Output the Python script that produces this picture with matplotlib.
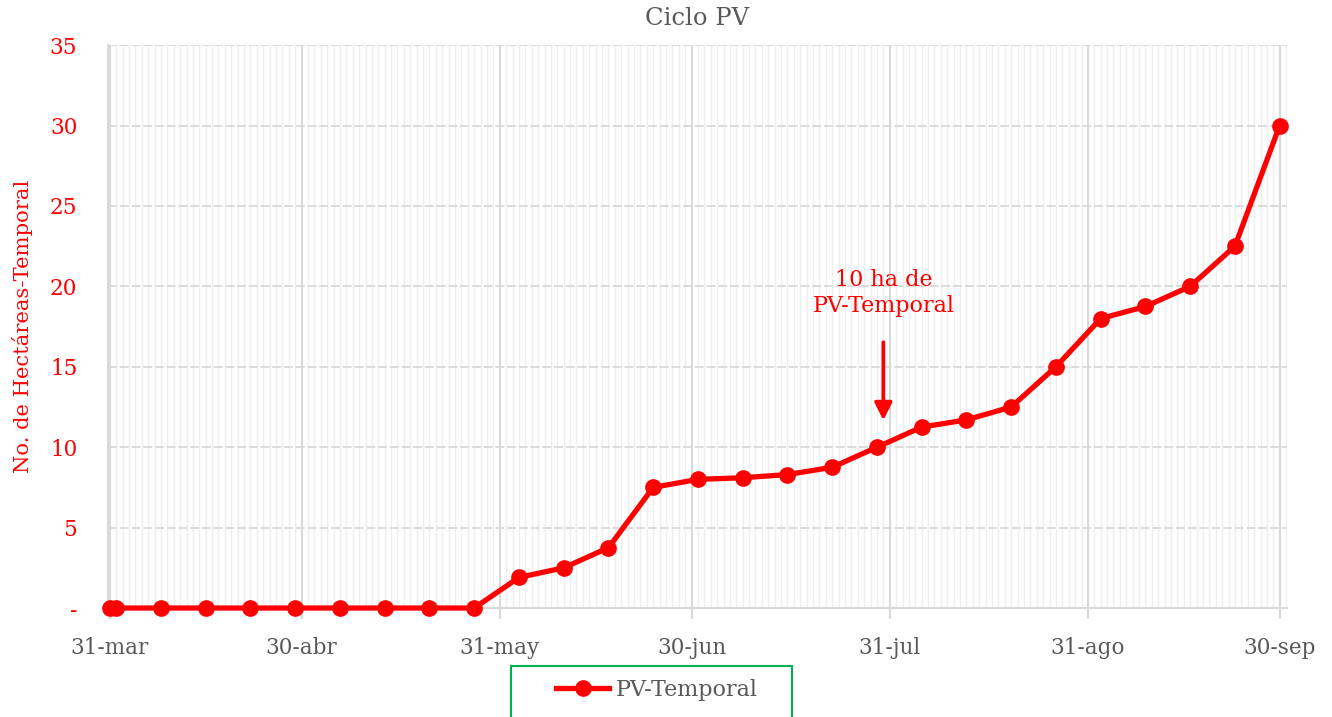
import pandas as pd
import matplotlib.pyplot as plt
import matplotlib.dates as mdates
from matplotlib.patches import Rectangle

# weekly samples of the PV-Temporal cycle
fechas = ["2023-03-31", "2023-04-01", "2023-04-08", "2023-04-15", "2023-04-22",
          "2023-04-29", "2023-05-06", "2023-05-13", "2023-05-20", "2023-05-27",
          "2023-06-03", "2023-06-10", "2023-06-17", "2023-06-24", "2023-07-01",
          "2023-07-08", "2023-07-15", "2023-07-22", "2023-07-29", "2023-08-05",
          "2023-08-12", "2023-08-19", "2023-08-26", "2023-09-02", "2023-09-09",
          "2023-09-16", "2023-09-23", "2023-09-30"]
hectareas = [0, 0, 0, 0, 0, 0, 0, 0, 0, 0,
             1.9, 2.5, 3.75, 7.5, 8.0, 8.1, 8.3, 8.75, 10.0, 11.25,
             11.7, 12.5, 15.0, 18.0, 18.75, 20.0, 22.5, 30.0]

tick_fechas = ["2023-03-31", "2023-04-30", "2023-05-31", "2023-06-30",
               "2023-07-31", "2023-08-31", "2023-09-30"]
tick_labels = ["31-mar", "30-abr", "31-may", "30-jun", "31-jul", "31-ago", "30-sep"]
y_ticks = [0, 5, 10, 15, 20, 25, 30, 35]
y_labels = ["-", "5", "10", "15", "20", "25", "30", "35"]

nota_fecha = "2023-07-30"
nota_texto = "10 ha de\nPV-Temporal"

RED = "#ff0000"
GRAY = "#595959"
FONT = "DejaVu Serif"

plt.rcParams["font.family"] = FONT

x = pd.to_datetime(fechas)
ticks = pd.to_datetime(tick_fechas)

fig = plt.figure(figsize=(13.32, 7.17), dpi=100)
ax = fig.add_axes([0.081, 0.152, 0.885, 0.785])

ax.plot(x, hectareas, color=RED, linewidth=3.8, marker="o", markersize=11,
        label="PV-Temporal", zorder=3, clip_on=False)

# axis limits
ax.set_xlim(mdates.date2num(pd.Timestamp("2023-03-31")) - 0.3,
            mdates.date2num(pd.Timestamp("2023-10-01")) + 0.1)
ax.set_ylim(0, 35)

# x ticks: month ends, daily minor grid
ax.set_xticks(ticks)
ax.set_xticklabels(tick_labels, color=GRAY, fontsize=15.5)
ax.xaxis.set_minor_locator(mdates.DayLocator())
ax.tick_params(axis="x", which="major", length=8, width=1.5, color="#d9d9d9", pad=13)
ax.tick_params(axis="x", which="minor", length=0)

ax.set_yticks(y_ticks)
ax.set_yticklabels(y_labels, color=RED, fontsize=15.5)
ax.tick_params(axis="y", length=0, pad=22)

ax.grid(axis="x", which="minor", color="#efefef", linewidth=1.0, zorder=0)
ax.grid(axis="x", which="major", color="#d9d9d9", linewidth=1.5, zorder=0)
ax.grid(axis="y", which="major", color="#d9d9d9", linewidth=1.3,
        linestyle=(0, (5, 1.5)), zorder=0)
ax.set_axisbelow(True)

for side in ["top", "right"]:
    ax.spines[side].set_visible(False)
ax.spines["left"].set_color("#d9d9d9")
ax.spines["bottom"].set_color("#d9d9d9")
ax.spines["left"].set_linewidth(1.5)
ax.spines["bottom"].set_linewidth(1.5)

ax.set_title("Ciclo PV", color=GRAY, fontsize=17.5, pad=14.5)
ax.set_ylabel("No. de Hectáreas-Temporal", color=RED, fontsize=15.2, labelpad=12)

# annotation with arrow
nx = pd.Timestamp(nota_fecha)
ax.annotate("", xy=(nx, 11.5), xytext=(nx, 16.7),
            arrowprops=dict(arrowstyle="-|>", color=RED, lw=2.7, mutation_scale=26))
ax.text(nx, 19.6, nota_texto, color=RED, fontsize=16, ha="center", va="center",
        linespacing=1.2)

# legend below, inside a green box
fig.patches.append(Rectangle((511 / 1332, -0.05), 281 / 1332, 0.05 + 51 / 717,
                             transform=fig.transFigure, fill=False,
                             edgecolor="#00b050", linewidth=1.5))
leg = fig.legend(loc="center", bbox_to_anchor=(657 / 1332, 1 - 690 / 717),
                 frameon=False, fontsize=16, handlelength=2.4, handletextpad=0.3)
for t in leg.get_texts():
    t.set_color(GRAY)

fig.savefig("out.png", dpi=100)
